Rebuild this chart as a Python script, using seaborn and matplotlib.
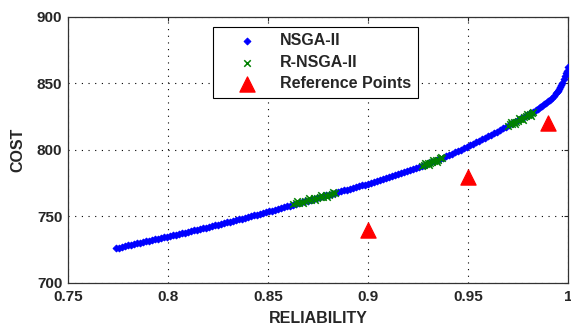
import numpy as np
import pandas as pd
import seaborn as sns
import matplotlib
matplotlib.use("Agg")
import matplotlib.pyplot as plt

# NSGA-II pareto front
nsga_rel = [0.774, 0.777, 0.780, 0.783, 0.786, 0.789, 0.792, 0.795, 0.798, 0.801,
            0.804, 0.807, 0.810, 0.813, 0.816, 0.819, 0.822, 0.825, 0.828, 0.831,
            0.834, 0.837, 0.840, 0.843, 0.846, 0.849, 0.852, 0.855, 0.858, 0.861,
            0.864, 0.867, 0.870, 0.873, 0.876, 0.879, 0.882, 0.885, 0.888, 0.891,
            0.894, 0.897, 0.900, 0.903, 0.906, 0.909, 0.912, 0.915, 0.918, 0.921,
            0.924, 0.927, 0.930, 0.933, 0.936, 0.939, 0.942, 0.945, 0.948, 0.951,
            0.954, 0.957, 0.960, 0.963, 0.966, 0.969, 0.972, 0.975, 0.978, 0.981,
            0.984, 0.986, 0.988, 0.990, 0.992, 0.994, 0.995, 0.996, 0.997, 0.998,
            0.9985, 0.999, 0.9995, 1.000]
nsga_cost = [726.0, 727.1, 728.2, 729.2, 730.2, 731.3, 732.3, 733.3, 734.3, 735.3,
             736.4, 737.4, 738.5, 739.5, 740.6, 741.7, 742.8, 743.9, 745.0, 746.1,
             747.3, 748.4, 749.6, 750.8, 752.0, 753.2, 754.4, 755.7, 756.9, 758.1,
             759.4, 760.7, 762.0, 763.3, 764.5, 765.8, 767.0, 768.3, 769.6, 770.8,
             772.1, 773.4, 774.7, 776.0, 777.4, 778.8, 780.3, 781.8, 783.4, 785.0,
             786.6, 788.2, 789.9, 791.6, 793.4, 795.3, 797.2, 799.2, 801.3, 803.5,
             805.7, 808.0, 810.3, 812.6, 815.0, 817.4, 819.9, 822.4, 825.0, 827.6,
             830.3, 832.0, 834.2, 836.5, 839.0, 842.5, 844.5, 847.0, 850.0, 853.5,
             855.5, 857.5, 859.5, 862.0]
# more NSGA-II solutions lying between the ones above
nsga_rel_b = [0.7755, 0.7785, 0.7815, 0.7845, 0.7875, 0.7905, 0.7935, 0.7965, 0.7995, 0.8025,
              0.8055, 0.8085, 0.8115, 0.8145, 0.8175, 0.8205, 0.8235, 0.8265, 0.8295, 0.8325,
              0.8355, 0.8385, 0.8415, 0.8445, 0.8475, 0.8505, 0.8535, 0.8565, 0.8595, 0.8625,
              0.8655, 0.8685, 0.8715, 0.8745, 0.8775, 0.8805, 0.8835, 0.8865, 0.8895, 0.8925,
              0.8955, 0.8985, 0.9015, 0.9045, 0.9075, 0.9105, 0.9135, 0.9165, 0.9195, 0.9225,
              0.9255, 0.9285, 0.9315, 0.9345, 0.9375, 0.9405, 0.9435, 0.9465, 0.9495, 0.9525,
              0.9555, 0.9585, 0.9615, 0.9645, 0.9675, 0.9705, 0.9735, 0.9765, 0.9795, 0.9825,
              0.985, 0.987, 0.989, 0.991, 0.993, 0.9945, 0.9955, 0.9965]
nsga_cost_b = [726.5, 727.6, 728.7, 729.7, 730.7, 731.8, 732.8, 733.8, 734.8, 735.8,
               736.9, 737.9, 739.0, 740.0, 741.1, 742.2, 743.3, 744.4, 745.5, 746.7,
               747.8, 749.0, 750.2, 751.4, 752.6, 753.8, 755.0, 756.3, 757.5, 758.7,
               760.0, 761.3, 762.6, 763.9, 765.1, 766.4, 767.6, 768.9, 770.2, 771.4,
               772.7, 774.0, 775.3, 776.7, 778.1, 779.5, 781.0, 782.6, 784.2, 785.8,
               787.4, 789.0, 790.7, 792.5, 794.3, 796.2, 798.2, 800.2, 802.4, 804.6,
               806.8, 809.1, 811.4, 813.8, 816.2, 818.6, 821.1, 823.7, 826.3, 828.9,
               831.1, 833.1, 835.3, 837.7, 840.7, 843.5, 845.7, 848.5]

# R-NSGA-II clusters around the reference points
rnsga_rel = [0.8625, 0.864, 0.8655, 0.867, 0.8685, 0.870, 0.8715, 0.873, 0.8745, 0.876,
             0.8775, 0.879, 0.8805, 0.882, 0.8835,
             0.8645, 0.8675, 0.8705, 0.8735, 0.8765, 0.8795, 0.8825,
             0.927, 0.928, 0.929, 0.930, 0.931, 0.932, 0.933, 0.934, 0.935, 0.936, 0.937,
             0.9285, 0.9305, 0.9325, 0.9345, 0.9365,
             0.970, 0.971, 0.972, 0.973, 0.974, 0.975, 0.976, 0.977, 0.978, 0.979,
             0.980, 0.981, 0.982, 0.9825,
             0.9715, 0.9735, 0.9755, 0.9775, 0.9795, 0.9815]
rnsga_cost = [759.0, 760.0, 760.3, 761.2, 761.6, 762.4, 762.7, 763.6, 763.9, 764.7,
              765.0, 765.9, 766.3, 767.1, 767.4,
              761.4, 759.9, 764.0, 762.3, 766.1, 764.4, 768.4,
              788.0, 788.9, 789.1, 790.1, 790.3, 791.3, 791.4, 792.5, 792.6, 793.7, 793.9,
              790.5, 789.0, 792.8, 791.0, 795.0,
              818.0, 819.2, 819.6, 820.7, 821.2, 822.0, 823.0, 823.6, 824.8, 825.2,
              826.4, 826.9, 828.0, 828.5,
              820.8, 819.5, 823.9, 822.3, 827.3, 825.6]

# reference points
ref_rel = [0.90, 0.95, 0.99]
ref_cost = [740, 780, 820]

nsga = pd.DataFrame({'reliability': nsga_rel + nsga_rel_b, 'cost': nsga_cost + nsga_cost_b})
nsga = nsga.sort_values('reliability')
rnsga = pd.DataFrame({'reliability': rnsga_rel, 'cost': rnsga_cost})
refs = pd.DataFrame({'reliability': ref_rel, 'cost': ref_cost})

sns.set_style("white")
plt.rcParams['font.family'] = ['Liberation Sans', 'DejaVu Sans']
plt.rcParams['font.weight'] = 'bold'

fig = plt.figure(figsize=(5.71, 3.26), dpi=100)
ax = fig.add_axes([0.119, 0.132, 0.876, 0.816])

sns.scatterplot(data=nsga, x='reliability', y='cost', marker='D', s=12,
                color='#0000ff', edgecolor='#0000ff', linewidth=0.7, label='NSGA-II', ax=ax, zorder=3)
sns.scatterplot(data=rnsga, x='reliability', y='cost', marker='x', s=22,
                color='#008000', linewidth=1.1, label='R-NSGA-II', ax=ax, zorder=4)
sns.scatterplot(data=refs, x='reliability', y='cost', marker='^', s=120,
                color='#ff0000', edgecolor='#ff0000', label='Reference Points', ax=ax, zorder=5)

ax.set_xlim(0.75, 1.0)
ax.set_ylim(700, 900)
ax.set_xticks([0.75, 0.8, 0.85, 0.9, 0.95, 1.0])
ax.set_xticklabels(['0.75', '0.8', '0.85', '0.9', '0.95', '1'])
ax.set_yticks([700, 750, 800, 850, 900])
ax.tick_params(direction='in', length=3, top=True, right=True, labelsize=11)
ax.tick_params(axis='x', pad=5)
ax.tick_params(axis='y', pad=4)
for lab in ax.get_xticklabels() + ax.get_yticklabels():
    lab.set_fontweight('bold')
ax.grid(True, color='black', linestyle=(0, (1, 5)), linewidth=0.8)
for sp in ax.spines.values():
    sp.set_color('#333333')
    sp.set_linewidth(0.9)

ax.set_xlabel('RELIABILITY', fontsize=11.5, fontweight='bold', labelpad=5)
ax.set_ylabel('COST', fontsize=11.5, fontweight='bold', labelpad=8)

leg = ax.legend(loc='upper left', bbox_to_anchor=(0.29, 0.962), borderaxespad=0,
                fancybox=False, edgecolor='black', framealpha=1, fontsize=11.5,
                handlelength=3.5, handletextpad=0.3, labelspacing=0.4, borderpad=0.4)
leg.get_frame().set_linewidth(0.8)
for t in leg.get_texts():
    t.set_fontweight('bold')

fig.savefig('out.png', dpi=100)
